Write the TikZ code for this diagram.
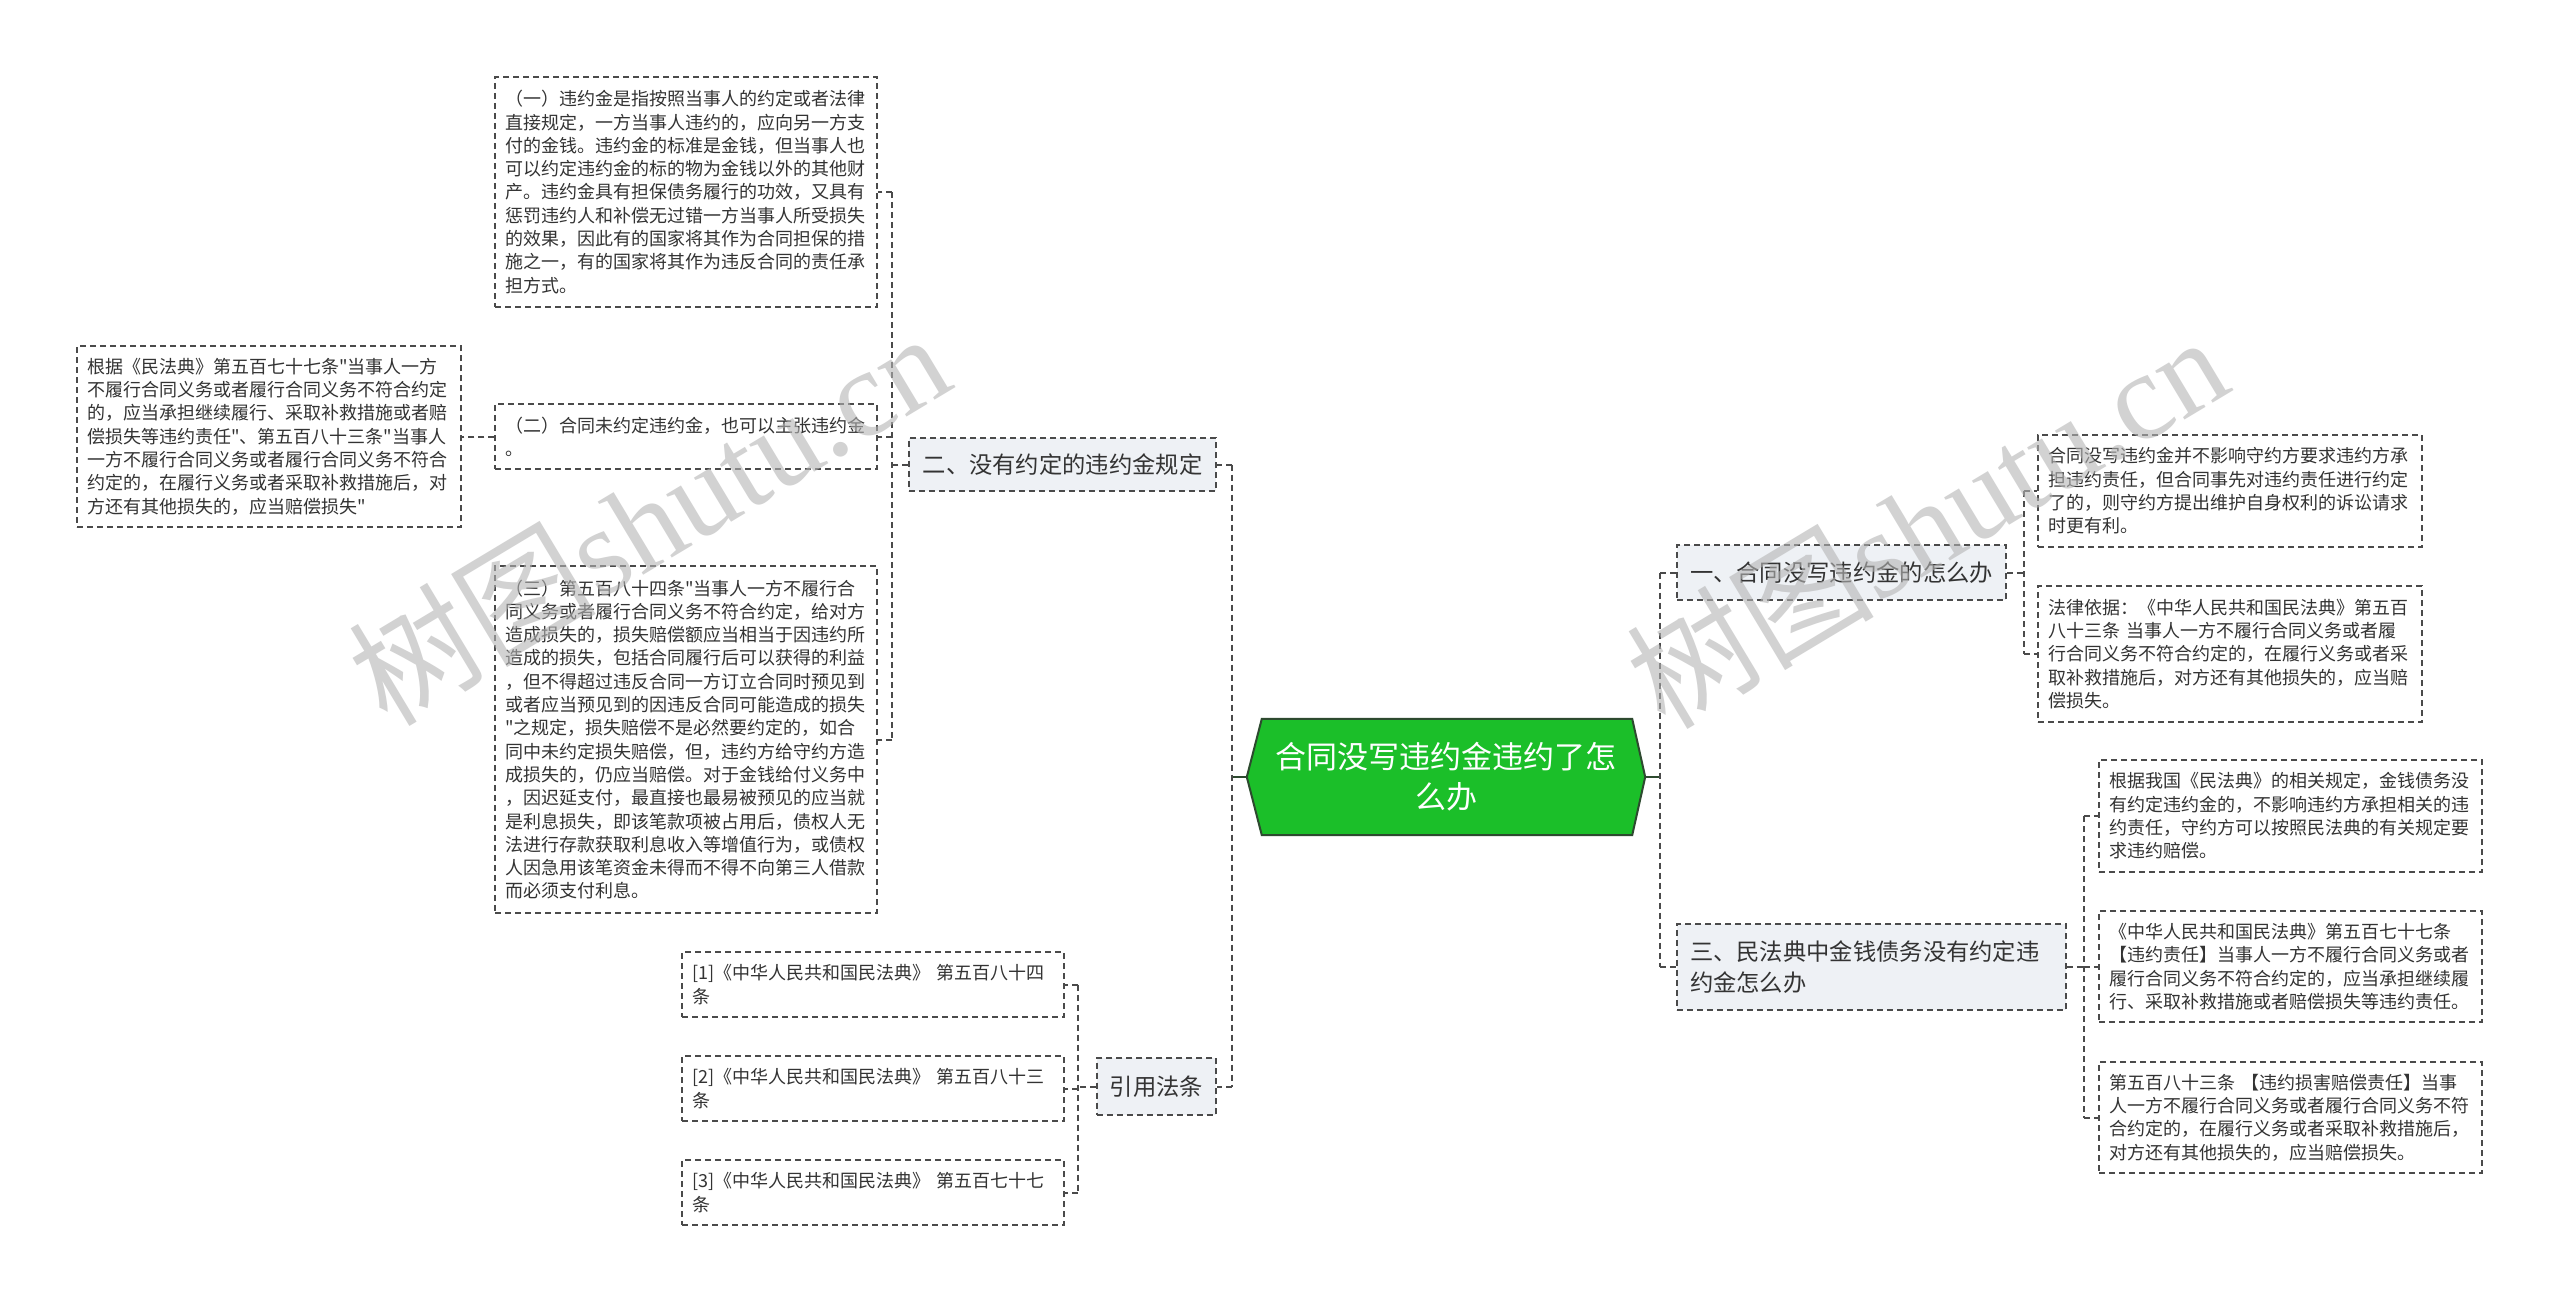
\documentclass[tikz,border=0pt]{standalone}
\usepackage{fontspec}
\setmainfont{Noto Sans CJK SC}[Ligatures=TeXOff]
\newfontfamily\wmserif{Liberation Serif}
\usetikzlibrary{backgrounds}
\definecolor{txt}{HTML}{333333}
\definecolor{bord}{HTML}{4A4A4A}
\definecolor{topicfill}{HTML}{EEF1F5}
\definecolor{cgreen}{HTML}{1BBF29}
\definecolor{cborder}{HTML}{2D4A2F}
\definecolor{wmgray}{HTML}{B4B4B4}
\begin{document}
\begin{tikzpicture}[x=1pt,y=-1pt,
  leaf/.style={draw=bord, line width=1.5pt, dash pattern=on 6pt off 4pt, fill=white, text=txt,
    align=left, inner xsep=10pt, inner ysep=0pt, font=\fontsize{18}{23.3}\selectfont},
  topic/.style={draw=bord, line width=1.5pt, dash pattern=on 6pt off 4pt, fill=topicfill, text=txt,
    align=left, inner xsep=13pt, inner ysep=0pt, font=\fontsize{23.3}{31.7}\selectfont},
  rootnode/.style={text=white, align=center, inner sep=0pt, font=\fontsize{31}{40}\selectfont},
  link/.style={draw=bord, line width=2pt, dash pattern=on 6pt off 4pt},
  solidlink/.style={draw=cborder, line width=2.5pt},
  wmark/.style={text=wmgray, opacity=0.6, rotate=31, inner sep=0pt, font=\fontsize{124}{124}\selectfont},
]
\useasboundingbox (0,0) rectangle (2560,1303);

% root
\node[rootnode, minimum width=398pt, minimum height=116pt] (root) at (1446,777) {合同没写违约金违约了怎\\么办};
\begin{scope}[on background layer]
\fill[white] (0,0) rectangle (2560,1303);
\draw[fill=cgreen, draw=cborder, line width=2pt] (root.west) -- ([xshift=15pt]root.north west) -- ([xshift=-13pt]root.north east) -- (root.east) -- ([xshift=-13pt]root.south east) -- ([xshift=15pt]root.south west) -- cycle;
\end{scope}

% topics
\node[topic, minimum width=307pt, minimum height=53pt] (T2) at (1062.5,464.5) {二、没有约定的违约金规定};
\node[topic, minimum width=119pt, minimum height=57pt] (T4) at (1156.5,1086.5) {引用法条};
\node[topic, minimum width=329pt, minimum height=55pt] (T1) at (1841.5,572.5) {一、合同没写违约金的怎么办};
\node[topic, text width=363pt, minimum height=86pt] (T3) at (1871.5,967) {三、民法典中金钱债务没有约定违\\约金怎么办};

% leaves of T2
\node[leaf, text width=362pt, minimum height=230pt] (A) at (686,192) {（一）违约金是指按照当事人的约定或者法律\\直接规定，一方当事人违约的，应向另一方支\\付的金钱。违约金的标准是金钱，但当事人也\\可以约定违约金的标的物为金钱以外的其他财\\产。违约金具有担保债务履行的功效，又具有\\惩罚违约人和补偿无过错一方当事人所受损失\\的效果，因此有的国家将其作为合同担保的措\\施之一，有的国家将其作为违反合同的责任承\\担方式。};
\node[leaf, text width=362pt, minimum height=65pt] (B) at (686,436.5) {（二）合同未约定违约金，也可以主张违约金\\。};
\node[leaf, text width=362pt, minimum height=347pt] (C) at (686,739.5) {（三）第五百八十四条"当事人一方不履行合\\同义务或者履行合同义务不符合约定，给对方\\造成损失的，损失赔偿额应当相当于因违约所\\造成的损失，包括合同履行后可以获得的利益\\，但不得超过违反合同一方订立合同时预见到\\或者应当预见到的因违反合同可能造成的损失\\"之规定，损失赔偿不是必然要约定的，如合\\同中未约定损失赔偿，但，违约方给守约方造\\成损失的，仍应当赔偿。对于金钱给付义务中\\，因迟延支付，最直接也最易被预见的应当就\\是利息损失，即该笔款项被占用后，债权人无\\法进行存款获取利息收入等增值行为，或债权\\人因急用该笔资金未得而不得不向第三人借款\\而必须支付利息。};
\node[leaf, text width=364pt, minimum height=181pt] (D) at (269,436.5) {根据《民法典》第五百七十七条"当事人一方\\不履行合同义务或者履行合同义务不符合约定\\的，应当承担继续履行、采取补救措施或者赔\\偿损失等违约责任"、第五百八十三条"当事人\\一方不履行合同义务或者履行合同义务不符合\\约定的，在履行义务或者采取补救措施后，对\\方还有其他损失的，应当赔偿损失"};

% leaves of T4
\node[leaf, text width=362pt, minimum height=65pt] (R1) at (873,984.5) {[1]《中华人民共和国民法典》 第五百八十四\\条};
\node[leaf, text width=362pt, minimum height=65pt] (R2) at (873,1088.5) {[2]《中华人民共和国民法典》 第五百八十三\\条};
\node[leaf, text width=362pt, minimum height=65pt] (R3) at (873,1192.5) {[3]《中华人民共和国民法典》 第五百七十七\\条};

% leaves of T1
\node[leaf, text width=364pt, minimum height=112pt] (E) at (2230,491) {合同没写违约金并不影响守约方要求违约方承\\担违约责任，但合同事先对违约责任进行约定\\了的，则守约方提出维护自身权利的诉讼请求\\时更有利。};
\node[leaf, text width=364pt, minimum height=136pt] (F) at (2230,654) {法律依据：《中华人民共和国民法典》第五百\\八十三条 当事人一方不履行合同义务或者履\\行合同义务不符合约定的，在履行义务或者采\\取补救措施后，对方还有其他损失的，应当赔\\偿损失。};

% leaves of T3
\node[leaf, text width=363pt, minimum height=112pt] (G) at (2290.5,816) {根据我国《民法典》的相关规定，金钱债务没\\有约定违约金的，不影响违约方承担相关的违\\约责任，守约方可以按照民法典的有关规定要\\求违约赔偿。};
\node[leaf, text width=363pt, minimum height=111pt] (H) at (2290.5,966.5) {《中华人民共和国民法典》第五百七十七条\\【违约责任】当事人一方不履行合同义务或者\\履行合同义务不符合约定的，应当承担继续履\\行、采取补救措施或者赔偿损失等违约责任。};
\node[leaf, text width=363pt, minimum height=111pt] (I) at (2290.5,1117.5) {第五百八十三条 【违约损害赔偿责任】当事\\人一方不履行合同义务或者履行合同义务不符\\合约定的，在履行义务或者采取补救措施后，\\对方还有其他损失的，应当赔偿损失。};

% connectors: root left
\draw[solidlink] (root.west) -- ++(-15,0) coordinate (lb);
\draw[link] (lb |- T2.east) -- (lb |- T4.east);
\draw[link] (lb |- T2.east) -- (T2.east);
\draw[link] (lb |- T4.east) -- (T4.east);
% T2 -> A,B,C
\coordinate (b2) at ([xshift=-16pt]T2.west);
\draw[link] (T2.west) -- (b2);
\draw[link] (b2 |- A.east) -- (b2 |- C.east);
\draw[link] (b2 |- A.east) -- (A.east);
\draw[link] (b2 |- B.east) -- (B.east);
\draw[link] (b2 |- C.east) -- (C.east);
% B -> D
\draw[link] (B.west) -- (D.east);
% T4 -> R1..R3
\coordinate (b4) at ([xshift=-18pt]T4.west);
\draw[link] (T4.west) -- (b4);
\draw[link] (b4 |- R1.east) -- (b4 |- R3.east);
\draw[link] (b4 |- R1.east) -- (R1.east);
\draw[link] (b4 |- R2.east) -- (R2.east);
\draw[link] (b4 |- R3.east) -- (R3.east);
% root right
\draw[solidlink] (root.east) -- ++(15,0) coordinate (rb);
\draw[link] (rb |- T1.west) -- (rb |- T3.west);
\draw[link] (rb |- T1.west) -- (T1.west);
\draw[link] (rb |- T3.west) -- (T3.west);
% T1 -> E,F
\coordinate (b1) at ([xshift=17pt]T1.east);
\draw[link] (T1.east) -- (b1);
\draw[link] (b1 |- E.west) -- (b1 |- F.west);
\draw[link] (b1 |- E.west) -- (E.west);
\draw[link] (b1 |- F.west) -- (F.west);
% T3 -> G,H,I
\coordinate (b3) at ([xshift=17pt]T3.east);
\draw[link] (T3.east) -- (b3);
\draw[link] (b3 |- G.west) -- (b3 |- I.west);
\draw[link] (b3 |- G.west) -- (G.west);
\draw[link] (b3 |- H.west) -- (H.west);
\draw[link] (b3 |- I.west) -- (I.west);

% watermarks
\node[wmark] (wm1) at (648,517) {树图{\wmserif shutu.cn}};
\node[wmark] (wm2) at (1926,520) {树图{\wmserif shutu.cn}};
\end{tikzpicture}
\end{document}
